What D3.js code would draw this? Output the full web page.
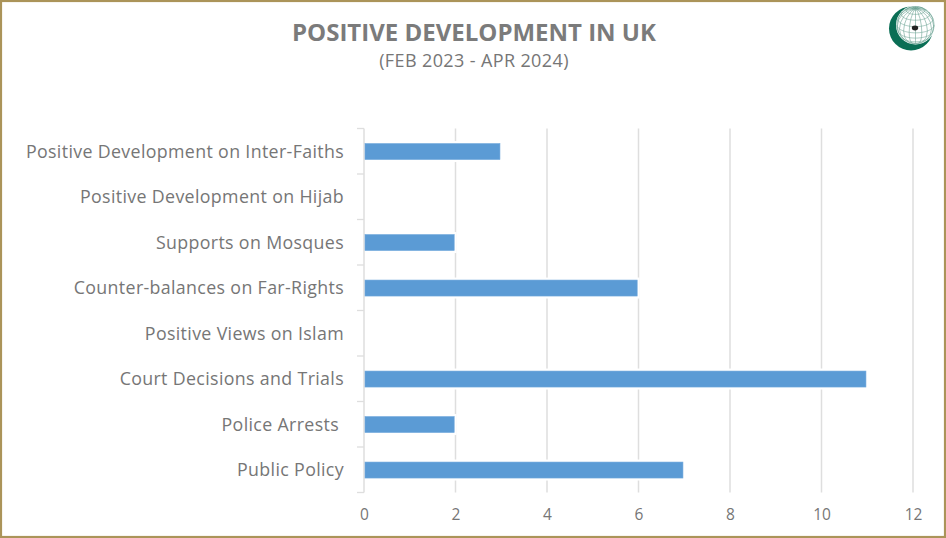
<!DOCTYPE html>
<html><head><meta charset="utf-8">
<script src="https://cdnjs.cloudflare.com/ajax/libs/d3/7.8.5/d3.min.js"></script>
<style>html,body{margin:0;padding:0;background:#fff}svg{display:block}text{font-family:"Open Sans",sans-serif;white-space:pre}</style>
</head><body><svg id="c" width="946" height="538"></svg>
<script>
const categories=["Positive Development on Inter-Faiths","Positive Development on Hijab","Supports on Mosques","Counter-balances on Far-Rights","Positive Views on Islam","Court Decisions and Trials","Police Arrests ","Public Policy"];
const values=[3,0,2,6,0,11,2,7];
const xTicks=[0,2,4,6,8,10,12];
const titleText="POSITIVE DEVELOPMENT IN UK";
const subtitleText="(FEB 2023 - APR 2024)";
const W=946,H=538;
const svg=d3.select("#c");
const x=d3.scaleLinear().domain([0,12]).range([364,913]);
const y=d3.scaleBand().domain(categories).range([128.5,492.5]).paddingInner(0).paddingOuter(0);
const gray="#767676",grid="#dedede";
svg.append("rect").attr("x",1).attr("y",1).attr("width",W-2).attr("height",H-2).attr("fill","#fff").attr("stroke","#ab9459").attr("stroke-width",2.2);
svg.append("text").attr("x",474).attr("y",41).attr("text-anchor","middle").attr("font-size",24).attr("font-weight",700).attr("fill","#7b7b7b").text(titleText);
svg.append("text").attr("x",474).attr("y",67).attr("text-anchor","middle").attr("font-size",18).attr("letter-spacing",.38).attr("fill",gray).text(subtitleText);
// gridlines
svg.append("g").selectAll("line").data(xTicks.slice(1)).join("line").attr("x1",d=>x(d)).attr("x2",d=>x(d)).attr("y1",128.5).attr("y2",492.5).attr("stroke",grid).attr("stroke-width",1.5);
// category axis
const yAxis=d3.axisLeft(y).tickSize(0).tickPadding(20);
const gy=svg.append("g").attr("transform","translate(364,0.6)").call(yAxis);
gy.select(".domain").remove();
gy.selectAll(".tick text").attr("font-size",17.8).attr("letter-spacing",.35).attr("fill",gray).style("font-family",'"Open Sans",sans-serif');
const edges=y.domain().map(d=>y(d)).concat([y.range()[1]]);
svg.append("g").selectAll("line").data(edges).join("line").attr("x1",357).attr("x2",364).attr("y1",d=>d).attr("y2",d=>d).attr("stroke",grid).attr("stroke-width",1.3);
svg.append("line").attr("x1",364).attr("x2",364).attr("y1",128.5).attr("y2",492.5).attr("stroke",grid).attr("stroke-width",1.5);
// bars, with white halo
const barH=16;
const nz=categories.map((c,i)=>({c,v:values[i]}));
const mid=d=>y(d.c)+y.bandwidth()/2+0.3;
svg.append("g").selectAll("rect").data(nz).join("rect").attr("x",x(0)+1).attr("y",d=>mid(d)-barH/2-2.5).attr("width",d=>d.v?x(d.v)-x(0):0).attr("height",barH+5).attr("fill","#fff");
svg.append("g").selectAll("rect").data(nz).join("rect").attr("x",x(0)+1).attr("y",d=>mid(d)-barH/2).attr("width",d=>d.v?x(d.v)-x(0)-2.3:0).attr("height",barH).attr("fill","#5b9bd5").attr("stroke","#72a9dc").attr("stroke-width",.6);
// value axis labels
const xAxis=d3.axisBottom(x).tickValues(xTicks).tickSize(0).tickPadding(0);
const gx=svg.append("g").attr("transform","translate(0,520)").call(xAxis);
gx.select(".domain").remove();
gx.selectAll("text").attr("font-size",15.5).attr("fill",gray).style("font-family",'"Open Sans",sans-serif').attr("y",0).attr("dy",0);
// emblem
const lg=svg.append("g").attr("transform","translate(911,28.5)");
lg.append("circle").attr("r",22).attr("fill","#0a6e55");
lg.append("circle").attr("cx",4.5).attr("cy",-3.5).attr("r",19.5).attr("fill","#fff");
const proj=d3.geoOrthographic().scale(18.5).translate([4.5,-3.5]).rotate([20,-25]).clipAngle(90);
lg.append("path").attr("d",d3.geoPath(proj)(d3.geoGraticule().step([20,20])())).attr("fill","none").attr("stroke","#6fa596").attr("stroke-width",.6);
lg.append("circle").attr("cx",4.5).attr("cy",-3.5).attr("r",18.5).attr("fill","none").attr("stroke","#6fa596").attr("stroke-width",.7);
lg.append("ellipse").attr("cx",4).attr("cy",-0.5).attr("rx",3.2).attr("ry",2.4).attr("fill","#222");
</script></body></html>
